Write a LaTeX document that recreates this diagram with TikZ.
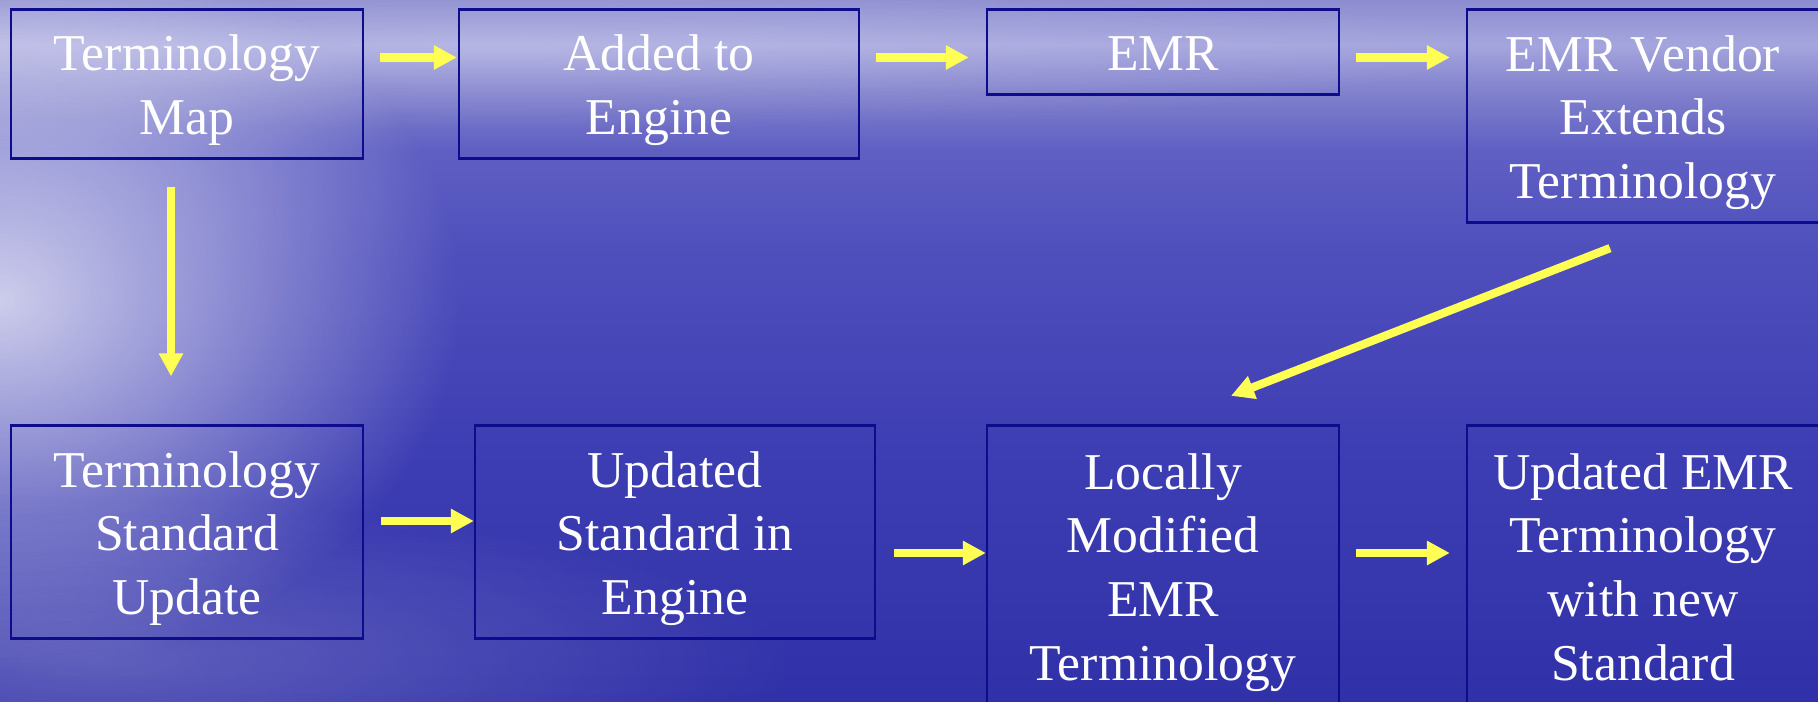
\documentclass[tikz,border=0pt]{standalone}
\usepackage{fontspec}
\setmainfont{Liberation Serif}
\usepackage{tikz}
\usetikzlibrary{arrows.meta,fadings}

\definecolor{seadeep}{RGB}{48,48,168}
\definecolor{sealow}{RGB}{62,62,180}
\definecolor{seamid}{RGB}{78,78,188}
\definecolor{sealight}{RGB}{95,95,195}
\definecolor{seahaze}{RGB}{130,130,205}
\definecolor{seacloud}{RGB}{165,165,222}
\definecolor{seatop}{RGB}{140,140,208}
\definecolor{boxline}{RGB}{12,12,140}
\definecolor{arrowyellow}{RGB}{255,255,84}

\pgfdeclareverticalshading{sea}{100bp}{color(0bp)=(seadeep); color(25bp)=(seadeep);
  color(43bp)=(sealow); color(56.5bp)=(seamid); color(64.3bp)=(sealight);
  color(68.6bp)=(seahaze); color(71.8bp)=(seacloud); color(75bp)=(seatop);
  color(100bp)=(seatop)}
\tikzfading[name=glow, inner color=transparent!0, outer color=transparent!100]

% first line ascent and last line descent, as in the slide
\newcommand{\boxtop}{\rule{0pt}{14pt}}
\newcommand{\boxbottom}{\rule[-3.2pt]{0pt}{3.2pt}}

\tikzset{
  box/.style={draw=boxline, line width=0.65pt, text=white, align=center, inner sep=0pt,
    minimum width=3.52cm, font=\fontsize{14.7pt}{18.2pt}\selectfont},
  flow/.style={draw=arrowyellow, line width=0.083cm,
    -{Triangle[length=0.23cm,width=0.23cm]}}
}

\begin{document}
\begin{tikzpicture}[scale=1]

\useasboundingbox (0,0) rectangle (18.18,-7.02);
\clip (0,0) rectangle (18.18,-7.02);

% background
\shade[shading=sea] (0,0) rectangle (18.18,-7.02);
\fill[white, opacity=0.72, path fading=glow] (0,-3.0) ellipse (4.6 and 3.7);
\fill[white, opacity=0.2, path fading=glow] (5,-0.5) ellipse (10 and 0.8);
\fill[white, opacity=0.22, path fading=glow] (1,-6.6) ellipse (7 and 1.6);

% boxes
\node[box, minimum height=1.49cm] (map) at (1.87,-0.84) {\boxtop Terminology\\Map\boxbottom};
\node[box, minimum height=1.49cm, minimum width=4cm] (added) at (6.59,-0.84) {\boxtop Added to\\Engine\boxbottom};
\node[box, minimum height=0.85cm] (emr) at (11.63,-0.52) {\boxtop EMR\boxbottom};
\node[box, minimum height=2.13cm] (vendor) at (16.43,-1.16) {\boxtop EMR Vendor\\Extends\\Terminology\boxbottom};
\node[box, minimum height=2.13cm] (update) at (1.87,-5.32) {\boxtop Terminology\\Standard\\Update\boxbottom};
\node[box, minimum height=2.13cm, minimum width=4cm] (engine) at (6.75,-5.32) {\boxtop Updated\\Standard in\\Engine\boxbottom};
\node[box, minimum height=2.81cm] (local) at (11.63,-5.66) {\boxtop Locally\\Modified\\EMR\\Terminology\boxbottom};
\node[box, minimum height=2.81cm] (final) at (16.43,-5.66) {\boxtop Updated EMR\\Terminology\\with new\\Standard\boxbottom};

% arrows
\draw[flow, shorten <=0.16cm, shorten >=0.01cm] ([yshift=0.265cm]map.east) -- ([yshift=0.265cm]map.east -| added.west);
\draw[flow, shorten <=0.16cm, shorten >=0.17cm] ([yshift=0.265cm]added.east) -- ([yshift=0.265cm]added.east -| emr.west);
\draw[flow, shorten <=0.16cm, shorten >=0.16cm] ([yshift=-0.055cm]emr.east) -- ([yshift=-0.055cm]emr.east -| vendor.west);
\draw[flow, shorten <=0.27cm, shorten >=0.48cm] ([xshift=-0.16cm]map.south) -- ([xshift=-0.16cm]map.south |- update.north);
\draw[flow] ([shift={(-0.33,-0.245)}]vendor.south) -- ([shift={(0.68,0.285)}]local.north);
\draw[flow, shorten <=0.17cm] ([yshift=0.11cm]update.east) -- ([yshift=0.11cm]update.east -| engine.west);
\draw[flow, shorten <=0.18cm] ([yshift=-0.21cm]engine.east) -- ([yshift=-0.21cm]engine.east -| local.west);
\draw[flow, shorten <=0.16cm, shorten >=0.16cm] ([yshift=0.13cm]local.east) -- ([yshift=0.13cm]local.east -| final.west);
\end{tikzpicture}
\end{document}
